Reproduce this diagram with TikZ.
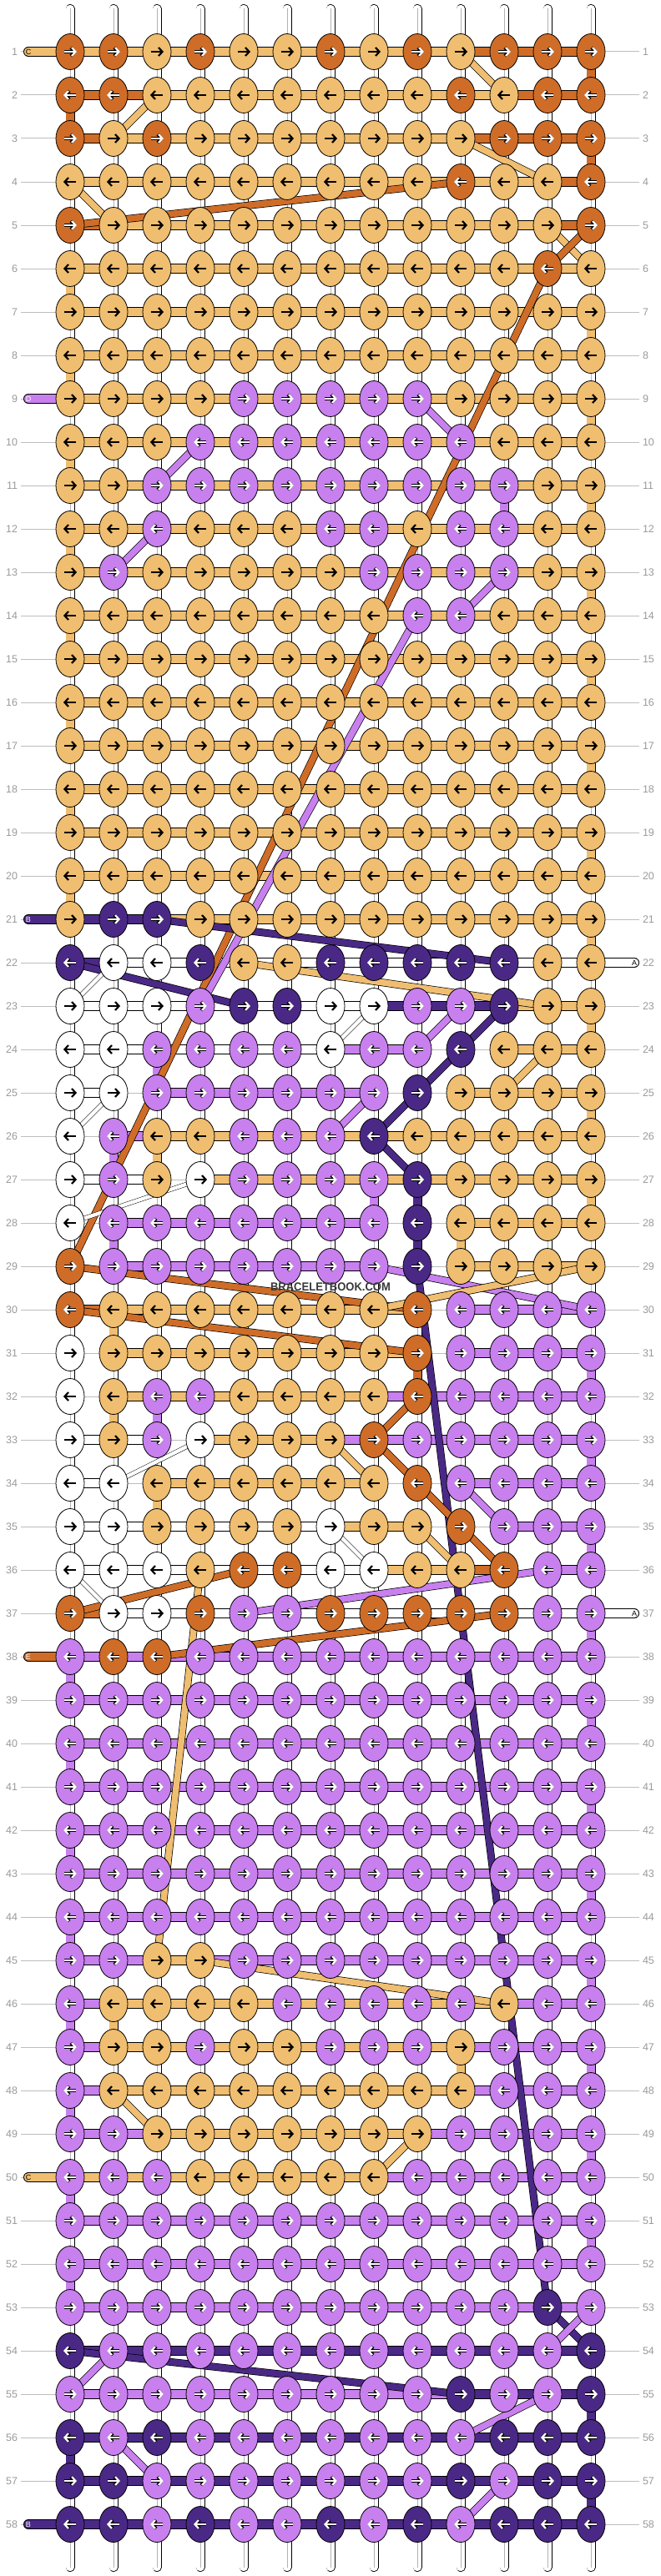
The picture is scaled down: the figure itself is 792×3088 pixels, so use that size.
\documentclass[tikz,border=0pt]{standalone}
\usepackage{fontspec}
\setmainfont{Liberation Sans}
\usetikzlibrary{shapes.geometric,arrows.meta}

\definecolor{cA}{HTML}{FFFFFF}
\definecolor{cB}{HTML}{4A2986}
\definecolor{cC}{HTML}{F0BE70}
\definecolor{cD}{HTML}{C880EE}
\definecolor{cE}{HTML}{CF6D28}
\colorlet{aA}{black}\colorlet{aB}{white}\colorlet{aC}{black}\colorlet{aD}{white}\colorlet{aE}{white}
\colorlet{oA}{cA}\colorlet{oB}{black}\colorlet{oC}{cC}\colorlet{oD}{black}\colorlet{oE}{black}
\definecolor{rowgray}{HTML}{9A9A9A}
\definecolor{guidegray}{HTML}{BDBDBD}

\pgfdeclarelayer{guide}
\pgfdeclarelayer{warp}
\pgfdeclarelayer{thread}
\pgfsetlayers{guide,warp,thread,main}

\tikzset{
  knot/.style={ellipse, draw=black, line width=0.8pt, fill=c#1,
    minimum width=34pt, minimum height=43pt, inner sep=0pt},
  seg/.style={draw=black, line width=0.8pt, double=c#1, double distance=10.4pt},
  vert/.style={draw=black, line width=0.8pt, double=c#1, double distance=9.4pt},
  diag/.style={draw=black, line width=0.7pt, double=c#1, double distance=7.6pt},
  thin/.style={draw=black, line width=0.5pt, double=white, double distance=4.4pt},
  tipline/.style={-{Straight Barb[length=4.5pt,width=10pt]}, line width=#1},
  rowlab/.style={text=rowgray, font=\fontsize{12.5}{14}\selectfont, inner sep=2pt, outer sep=2pt},
  stublab/.style={text=a#1, font=\fontsize{9}{10}\selectfont, inner sep=0pt},
}

\begin{document}
\begin{tikzpicture}[x=1pt,y=-1pt]
  \useasboundingbox (0,0) rectangle (792,3088);

  % Knots
  \foreach \r/\ks in {
    1/{E,E,C,E,C,C,E,C,E,C,E,E,E}, 2/{E,E,C,C,C,C,C,C,C,E,C,E,E},
    3/{E,C,E,C,C,C,C,C,C,C,E,E,E}, 4/{C,C,C,C,C,C,C,C,C,E,C,C,E},
    5/{E,C,C,C,C,C,C,C,C,C,C,C,E}, 6/{C,C,C,C,C,C,C,C,C,C,C,E,C},
    7/{C,C,C,C,C,C,C,C,C,C,C,C,C}, 8/{C,C,C,C,C,C,C,C,C,C,C,C,C},
    9/{C,C,C,C,D,D,D,D,D,C,C,C,C}, 10/{C,C,C,D,D,D,D,D,D,D,C,C,C},
    11/{C,C,D,D,D,D,D,D,D,D,D,C,C}, 12/{C,C,D,C,C,C,D,D,C,D,D,C,C},
    13/{C,D,C,C,C,C,C,D,D,D,D,C,C}, 14/{C,C,C,C,C,C,C,C,D,D,C,C,C},
    15/{C,C,C,C,C,C,C,C,C,C,C,C,C}, 16/{C,C,C,C,C,C,C,C,C,C,C,C,C},
    17/{C,C,C,C,C,C,C,C,C,C,C,C,C}, 18/{C,C,C,C,C,C,C,C,C,C,C,C,C},
    19/{C,C,C,C,C,C,C,C,C,C,C,C,C}, 20/{C,C,C,C,C,C,C,C,C,C,C,C,C},
    21/{C,B,B,C,C,C,C,C,C,C,C,C,C}, 22/{B,A,A,B,C,C,B,B,B,B,B,C,C},
    23/{A,A,A,D,B,B,A,A,D,D,B,C,C}, 24/{A,A,D,D,D,D,A,D,D,B,C,C,C},
    25/{A,A,D,D,D,D,D,D,B,C,C,C,C}, 26/{A,D,C,C,D,D,D,B,C,C,C,C,C},
    27/{A,D,C,A,D,D,D,D,B,C,C,C,C}, 28/{A,D,D,D,D,D,D,D,B,C,C,C,C},
    29/{E,D,D,D,D,D,D,D,B,C,C,C,C}, 30/{E,C,C,C,C,C,C,C,E,D,D,D,D},
    31/{A,C,C,C,C,C,C,C,E,D,D,D,D}, 32/{A,C,D,D,C,C,C,C,E,D,D,D,D},
    33/{A,C,D,A,C,C,C,E,D,D,D,D,D}, 34/{A,A,C,C,C,C,C,C,E,D,D,D,D},
    35/{A,A,C,C,C,C,A,C,C,E,D,D,D}, 36/{A,A,A,C,E,E,A,A,C,C,E,D,D},
    37/{E,A,A,E,D,D,E,E,E,E,E,D,D}, 38/{D,E,E,D,D,D,D,D,D,D,D,D,D},
    39/{D,D,D,D,D,D,D,D,D,D,D,D,D}, 40/{D,D,D,D,D,D,D,D,D,D,D,D,D},
    41/{D,D,D,D,D,D,D,D,D,D,D,D,D}, 42/{D,D,D,D,D,D,D,D,D,D,D,D,D},
    43/{D,D,D,D,D,D,D,D,D,D,D,D,D}, 44/{D,D,D,D,D,D,D,D,D,D,D,D,D},
    45/{D,D,C,C,D,D,D,D,D,D,D,D,D}, 46/{D,C,C,C,C,D,D,D,D,D,C,D,D},
    47/{D,C,C,D,C,C,D,D,D,C,D,D,D}, 48/{D,C,C,C,C,C,C,C,C,C,D,D,D},
    49/{D,D,C,C,C,C,C,C,C,D,D,D,D}, 50/{D,D,D,C,C,C,C,C,D,D,D,D,D},
    51/{D,D,D,D,D,D,D,D,D,D,D,D,D}, 52/{D,D,D,D,D,D,D,D,D,D,D,D,D},
    53/{D,D,D,D,D,D,D,D,D,D,D,B,D}, 54/{B,D,D,D,D,D,D,D,D,D,D,D,B},
    55/{D,D,D,D,D,D,D,D,D,B,D,D,B}, 56/{B,D,B,D,D,D,D,D,D,D,B,B,B},
    57/{B,B,D,D,D,D,D,D,D,B,D,B,B}, 58/{B,B,D,B,D,D,B,D,B,D,B,B,B}}{
    \pgfmathtruncatemacro\dir{2*mod(\r,2)-1}
    \foreach \k [count=\c] in \ks {
      \node[knot=\k] (k-\r-\c) at ({32+52*\c},{10+52*\r}) {};
      \draw[tipline=3.8pt, draw=o\k] ([xshift={-7*\dir}]k-\r-\c.center) -- ([xshift={8*\dir}]k-\r-\c.center);
      \draw[tipline=2.2pt, draw=a\k] ([xshift={-7*\dir}]k-\r-\c.center) -- ([xshift={8*\dir}]k-\r-\c.center);
    }
  }

  % Row numbers
  \foreach \r in {1,...,58}{
    \node[rowlab, anchor=east] (rl-\r) at (25,{10+52*\r}) {\r};
    \node[rowlab, anchor=west] (rr-\r) at (766,{10+52*\r}) {\r};
    \begin{pgfonlayer}{guide}
      \draw[guidegray, line width=1pt] (rl-\r.east) -- (rr-\r.west);
    \end{pgfonlayer}
  }

  % Warp strings
  \foreach \c in {1,...,13}{
    \coordinate (wt-\c) at ({32+52*\c},10.5);
    \coordinate (wb-\c) at ({32+52*\c},3077.5);
    \begin{pgfonlayer}{warp}
      \draw[line cap=round, line width=11pt] (wt-\c) -- (wb-\c);
      \draw[line cap=round, line width=9.4pt, white] (wt-\c) -- (wb-\c);
      \draw[line width=0.6pt, gray!60] (wt-\c) -- (wb-\c);
    \end{pgfonlayer}
  }

  \begin{pgfonlayer}{thread}
  % Rows
  \foreach \r/\ss in {
    1/{C,C,C,C,C,C,C,C,C,E,E,E}, 2/{E,E,C,C,C,C,C,C,C,C,E,E},
    3/{E,C,C,C,C,C,C,C,C,E,E,E}, 4/{C,C,C,C,C,C,C,C,C,C,C,E},
    5/{E,C,C,C,C,C,C,C,C,C,C,E}, 6/{C,C,C,C,C,C,C,C,C,C,C,C},
    7/{C,C,C,C,C,C,C,C,C,C,C,C}, 8/{C,C,C,C,C,C,C,C,C,C,C,C},
    9/{C,C,C,C,C,C,C,C,C,C,C,C}, 10/{C,C,C,C,C,C,C,C,C,C,C,C},
    11/{C,C,C,C,C,C,C,C,C,C,C,C}, 12/{C,C,C,C,C,C,C,C,C,C,C,C},
    13/{C,C,C,C,C,C,C,C,C,C,C,C}, 14/{C,C,C,C,C,C,C,C,C,C,C,C},
    15/{C,C,C,C,C,C,C,C,C,C,C,C}, 16/{C,C,C,C,C,C,C,C,C,C,C,C},
    17/{C,C,C,C,C,C,C,C,C,C,C,C}, 18/{C,C,C,C,C,C,C,C,C,C,C,C},
    19/{C,C,C,C,C,C,C,C,C,C,C,C}, 20/{C,C,C,C,C,C,C,C,C,C,C,C},
    21/{B,B,C,C,C,C,C,C,C,C,C,C}, 22/{B,A,A,A,A,A,A,A,A,A,A,A},
    23/{A,A,A,A,A,A,A,B,B,B,C,C}, 24/{A,A,A,A,A,A,D,D,N,N,C,C},
    25/{A,N,D,D,D,D,D,N,N,C,C,C}, 26/{N,D,C,C,C,C,C,C,C,C,C,C},
    27/{A,A,N,C,C,C,C,C,C,C,C,C}, 28/{N,D,D,D,D,D,D,N,N,C,C,C},
    29/{N,D,D,D,D,D,D,N,N,C,C,C}, 30/{E,C,C,C,C,C,C,C,N,D,D,D},
    31/{N,C,C,C,C,C,C,C,N,D,D,D}, 32/{N,C,C,C,C,C,C,D,D,D,D,D},
    33/{A,A,N,C,C,C,D,D,D,D,D,D}, 34/{A,N,C,C,C,C,C,N,N,D,D,D},
    35/{A,A,A,A,A,A,C,C,N,N,D,D}, 36/{A,A,A,A,A,A,A,C,C,E,N,D},
    37/{E,A,A,A,A,A,A,A,A,A,A,A}, 38/{D,D,D,D,D,D,D,D,D,D,D,D},
    39/{D,D,D,D,D,D,D,D,D,D,D,D}, 40/{D,D,D,D,D,D,D,D,D,D,D,D},
    41/{D,D,D,D,D,D,D,D,D,D,D,D}, 42/{D,D,D,D,D,D,D,D,D,D,D,D},
    43/{D,D,D,D,D,D,D,D,D,D,D,D}, 44/{D,D,D,D,D,D,D,D,D,D,D,D},
    45/{D,D,C,D,D,D,D,D,D,D,D,D}, 46/{D,C,C,C,C,C,C,C,C,C,D,D},
    47/{D,C,C,C,C,C,C,C,C,D,D,D}, 48/{D,C,C,C,C,C,C,C,C,D,D,D},
    49/{D,D,C,C,C,C,C,C,D,D,D,D}, 50/{C,C,C,C,C,C,C,D,D,D,D,D},
    51/{D,D,D,D,D,D,D,D,D,D,D,D}, 52/{D,D,D,D,D,D,D,D,D,D,D,D},
    53/{D,D,D,D,D,D,D,D,D,D,D,D}, 54/{B,B,B,B,B,B,B,B,B,B,B,B},
    55/{D,D,D,D,D,D,D,D,D,B,B,B}, 56/{B,B,B,B,B,B,B,B,B,B,B,B},
    57/{B,B,B,B,B,B,B,B,B,B,B,B}, 58/{B,B,B,B,B,B,B,B,B,B,B,B}}{
    \foreach \s [count=\c] in \ss {
      \pgfmathtruncatemacro\cn{\c+1}
      \if N\s\else\path[seg=\s] (k-\r-\c.center) -- (k-\r-\cn.center);\fi
    }
  }
  % Turns and drops
  \foreach \t/\r/\c in {E/1/13, E/2/1, E/3/13,
    C/6/1, C/7/13, C/8/1, C/9/13, C/10/1, C/11/13, C/12/1, C/13/13, C/14/1,
    C/15/13, C/16/1, C/17/13, C/18/1, C/19/13, C/20/1, C/21/13, C/23/13,
    C/25/13, C/27/13, D/31/13, D/33/13, D/35/13, D/37/13, D/38/1, D/39/13,
    D/40/1, D/41/13, D/42/1, D/43/13, D/44/1, D/45/13, D/46/1, D/47/13,
    D/48/1, D/49/13, D/50/1, D/51/13, D/52/1, B/55/13, B/56/1, B/57/13,
    D/11/11, D/24/3, D/26/2, C/26/3, D/27/8, B/27/9, D/28/2, B/28/9, C/28/10,
    C/30/2, E/31/9, C/32/2, D/32/3, C/34/3, C/46/2, C/47/10}{
    \pgfmathtruncatemacro\rn{\r+1}
    \path[vert=\t] (k-\r-\c.center) -- (k-\rn-\c.center);
  }
  % Loose threads
  \foreach \t/\ra/\ca/\rb/\cb in {C/1/10/2/11, C/2/3/3/2, C/3/10/4/12,
    C/4/1/5/2, E/4/10/5/1, C/5/12/6/13, E/5/13/6/12, E/6/12/29/1,
    D/9/9/10/10, D/10/4/11/3, D/12/3/13/2, D/13/11/14/10, D/14/9/23/4,
    B/21/3/22/11, B/22/1/23/5, C/22/5/23/12, D/23/10/24/9, B/23/11/24/10,
    C/24/12/25/11, B/24/10/25/9, D/25/8/26/7, B/25/9/26/8, B/26/8/27/9,
    E/29/1/30/9, D/29/8/30/13, C/29/13/30/8, E/30/1/31/9, B/29/9/53/12,
    E/32/9/33/8, C/33/7/34/8, E/33/8/34/9, E/34/9/35/10, E/35/10/36/11,
    D/34/10/35/11, C/35/9/36/10, E/36/5/37/1, D/36/12/37/5, C/36/4/45/3,
    E/37/11/38/3, C/45/4/46/11, C/48/2/49/3, C/49/9/50/8, B/53/12/54/13,
    D/53/13/54/12, B/54/1/55/10, D/54/2/55/1, D/55/12/56/10, D/56/2/57/3,
    D/57/11/58/10}{
    \path[diag=\t] (k-\ra-\ca.center) -- (k-\rb-\cb.center);
  }
  \foreach \ra/\ca/\rb/\cb in {22/2/23/1, 23/8/24/7, 25/2/26/1, 27/4/28/1,
    33/4/34/2, 35/7/36/8, 36/1/37/2}{
    \path[thin] (k-\ra-\ca.center) -- (k-\rb-\cb.center);
  }
  \end{pgfonlayer}

  % Thread ends
  \foreach \t/\r/\x/\c in {C/1/34/1, D/9/34/1, B/21/34/1, A/22/760/13,
    A/37/760/13, E/38/34/1, C/50/34/1, B/58/34/1}{
    \coordinate (end-\r) at (\x,{10+52*\r});
    \begin{pgfonlayer}{thread}
      \path[seg=\t, line cap=round] (end-\r) -- (k-\r-\c.center);
    \end{pgfonlayer}
    \node[stublab=\t] (sl-\r) at (end-\r) {\t};
  }

  \node[font=\bfseries\fontsize{14}{14}\selectfont, text=black!78, xscale=0.93] (mark) at (396,1543) {BRACELETBOOK.COM};
\end{tikzpicture}
\end{document}
